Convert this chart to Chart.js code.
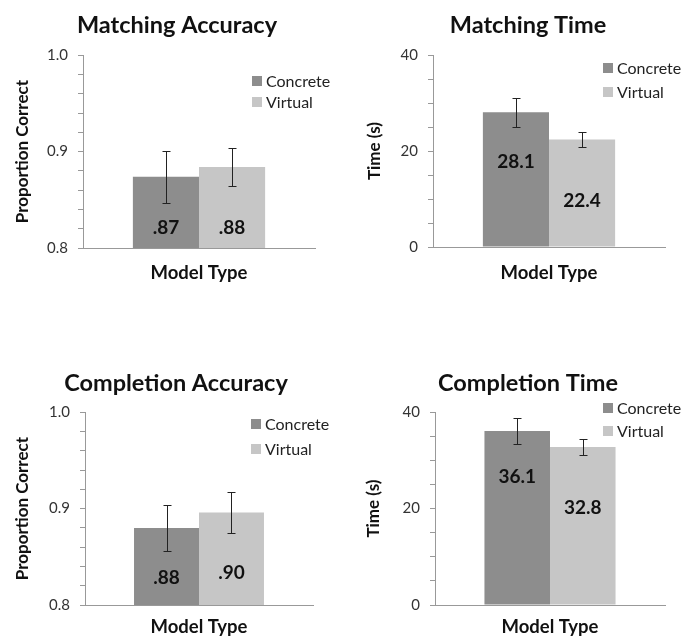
<!DOCTYPE html>
<html>
<head>
<meta charset="utf-8">
<script src="https://cdn.jsdelivr.net/npm/chart.js@4"></script>
<style>
  html, body { margin: 0; padding: 0; background: #fff; overflow: hidden; }
  body { position: relative; width: 685px; height: 639px; }
  canvas { position: absolute; }
</style>
</head>
<body>
<canvas id="c1" width="354" height="300" style="left:0;top:0"></canvas>
<canvas id="c2" width="345" height="300" style="left:340px;top:0"></canvas>
<canvas id="c3" width="352" height="284" style="left:0;top:355px"></canvas>
<canvas id="c4" width="345" height="284" style="left:340px;top:355px"></canvas>
<script>
// data
const series = ["Concrete", "Virtual"];
const matchAcc = [0.874, 0.884];
const matchAccErr = [0.027, 0.020];
const matchTime = [28.1, 22.4];
const matchTimeErr = [3.0, 1.5];
const compAcc = [0.880, 0.896];
const compAccErr = [0.024, 0.021];
const compTime = [36.1, 32.8];
const compTimeErr = [2.6, 1.6];
const accTicks = [0.8, 0.9, 1.0];
const timeTicks = [0, 20, 40];

const colors = ["#8d8d8d", "#c6c6c6"];
const axisGray = "#999999";
const FONT = "Lato";

// error bars
const errorBars = {
    id: "errorBars",
    afterDatasetsDraw(chart, args, opts) {
        const ctx = chart.ctx;
        const y = chart.scales.y;
        ctx.save();
        ctx.strokeStyle = "#222";
        ctx.lineWidth = 1;
        chart.data.datasets.forEach((ds, i) => {
            const bar = chart.getDatasetMeta(i).data[0];
            const v = ds.data[0], e = ds.err[0];
            const x = Math.round(bar.x) + 0.5;
            const yHi = Math.round(y.getPixelForValue(v + e)) + 0.5;
            const yLo = Math.round(y.getPixelForValue(v - e)) + 0.5;
            ctx.beginPath();
            ctx.moveTo(x, yHi); ctx.lineTo(x, yLo);
            ctx.moveTo(x - 4, yHi); ctx.lineTo(x + 4, yHi);
            ctx.moveTo(x - 4, yLo); ctx.lineTo(x + 4, yLo);
            ctx.stroke();
        });
        ctx.restore();
    }
};

// value labels inside bars
const barLabels = {
    id: "barLabels",
    afterDatasetsDraw(chart, args, opts) {
        const ctx = chart.ctx;
        ctx.save();
        ctx.font = "bold 19px " + FONT;
        ctx.fillStyle = "#111";
        ctx.textAlign = "center";
        ctx.textBaseline = "middle";
        chart.data.datasets.forEach((ds, i) => {
            const bar = chart.getDatasetMeta(i).data[0];
            const bottom = Math.min(bar.base, chart.chartArea.bottom);
            const ly = opts.anchor === "base" ? bottom - opts.offsets[i] : bar.y + opts.offsets[i];
            ctx.fillText(opts.format(ds.data[0]), bar.x, ly);
        });
        ctx.restore();
    }
};

// legend boxes inside the plot
const boxLegend = {
    id: "boxLegend",
    afterDraw(chart, args, opts) {
        const ctx = chart.ctx;
        ctx.save();
        ctx.font = "16px " + FONT;
        ctx.textBaseline = "middle";
        chart.data.datasets.forEach((ds, i) => {
            const cy = opts.rows[i];
            ctx.fillStyle = ds.backgroundColor;
            ctx.fillRect(opts.x, cy - 5, 10, 10);
            ctx.fillStyle = "#222";
            ctx.fillText(ds.label, opts.x + 14, cy + 1);
        });
        ctx.restore();
    }
};

function makePanel(id, p) {
    new Chart(document.getElementById(id), {
        type: "bar",
        data: {
            labels: [""],
            datasets: series.map((s, i) => ({
                label: s,
                data: [p.values[i]],
                err: [p.errs[i]],
                backgroundColor: colors[i],
                categoryPercentage: 0.57,
                barPercentage: 1.0
            }))
        },
        options: {
            responsive: false,
            animation: false,
            layout: { padding: { left: p.padLeft, right: p.padRight, top: 0, bottom: 0 } },
            plugins: {
                legend: { display: false },
                tooltip: { enabled: false },
                title: {
                    display: true,
                    text: p.title,
                    color: "#111",
                    font: { family: FONT, size: 23.5, weight: "bold", lineHeight: 1.2 },
                    padding: { top: p.titleTop, bottom: p.titleBottom }
                },
                barLabels: { anchor: p.anchor, offsets: p.labelOffsets, format: p.format },
                boxLegend: { x: p.legendX, rows: p.legendRows }
            },
            scales: {
                x: {
                    z: 1,
                    grid: { display: false },
                    border: { display: true, color: axisGray },
                    ticks: { display: false },
                    title: {
                        display: true, text: "Model Type", color: "#111",
                        font: { family: FONT, size: 18.5, weight: "bold", lineHeight: 1.2 },
                        padding: { top: 0, bottom: p.xTitleBottom }
                    },
                    afterFit(s) { s.height = p.xHeight; }
                },
                y: {
                    min: p.min, max: p.max,
                    grid: { drawOnChartArea: false, drawTicks: true, tickLength: 5, color: axisGray, tickColor: axisGray, tickWidth: 1 },
                    border: { display: true, color: axisGray },
                    ticks: {
                        stepSize: p.step,
                        autoSkip: false,
                        padding: 10,
                        color: "#333",
                        font: { family: FONT, size: 15 },
                        callback: (v) => {
                            const hit = p.tickLabels.find(t => Math.abs(t - v) < 1e-6);
                            return hit === undefined ? "" : p.tickFmt(hit);
                        }
                    },
                    title: {
                        display: true, text: p.yTitle, color: "#111",
                        font: { family: FONT, size: 17, weight: "bold", lineHeight: 1.2 },
                        padding: { top: p.yTitleLeft, bottom: 0 }
                    },
                    afterFit(s) { s.width = p.yWidth; }
                }
            }
        },
        plugins: [errorBars, barLabels, boxLegend]
    });
}

const accFmt = v => v.toFixed(2).replace(/^0/, "");
const timeFmt = v => v.toFixed(1);

makePanel("c1", {
    title: "Matching Accuracy", values: matchAcc, errs: matchAccErr,
    min: 0.8, max: 1.0, step: 0.02, tickLabels: accTicks, tickFmt: v => v.toFixed(1),
    yTitle: "Proportion Correct", yTitleLeft: -27, padLeft: 39, yWidth: 44, padRight: 39,
    titleTop: 11, titleBottom: 16, xHeight: 52, xTitleBottom: 16,
    anchor: "base", labelOffsets: [20, 20], format: accFmt,
    legendX: 252, legendRows: [81, 102]
});
makePanel("c2", {
    title: "Matching Time", values: matchTime, errs: matchTimeErr,
    min: 0, max: 40, step: 5, tickLabels: timeTicks, tickFmt: v => String(v),
    yTitle: "Time (s)", yTitleLeft: -27, padLeft: 51, yWidth: 42, padRight: 20,
    titleTop: 11, titleBottom: 16, xHeight: 53, xTitleBottom: 16,
    anchor: "top", labelOffsets: [50, 61], format: timeFmt,
    legendX: 263, legendRows: [68, 92]
});
makePanel("c3", {
    title: "Completion Accuracy", values: compAcc, errs: compAccErr,
    min: 0.8, max: 1.0, step: 0.02, tickLabels: accTicks, tickFmt: v => v.toFixed(1),
    yTitle: "Proportion Correct", yTitleLeft: -27, padLeft: 39, yWidth: 46, padRight: 39,
    titleTop: 14, titleBottom: 15, xHeight: 34, xTitleBottom: 1,
    anchor: "base", labelOffsets: [27, 32], format: accFmt,
    legendX: 251, legendRows: [69, 94]
});
makePanel("c4", {
    title: "Completion Time", values: compTime, errs: compTimeErr,
    min: 0, max: 40, step: 5, tickLabels: timeTicks, tickFmt: v => String(v),
    yTitle: "Time (s)", yTitleLeft: -28, padLeft: 51, yWidth: 44, padRight: 20,
    titleTop: 14, titleBottom: 15, xHeight: 34, xTitleBottom: 1,
    anchor: "top", labelOffsets: [46, 61], format: timeFmt,
    legendX: 263, legendRows: [53, 76]
});
</script>
</body>
</html>
